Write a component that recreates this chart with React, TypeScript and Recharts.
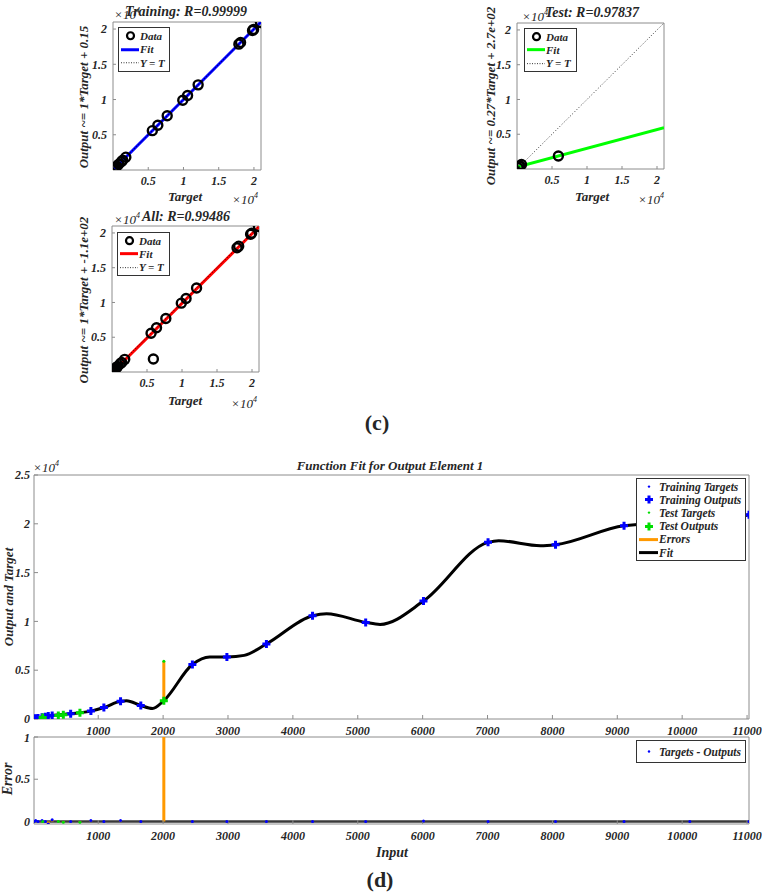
import React from "react";
import {
  ComposedChart,
  XAxis,
  YAxis,
  Line,
  Scatter,
  ReferenceArea,
  ReferenceLine,
} from "recharts";

// training set (input -> target / output / error)
const trainInput = [10, 36, 72, 134, 185, 230, 290, 575, 887, 1087, 1344, 1656, 2451, 2983, 3592, 4303, 5122, 6013, 7008, 8048, 9104, 10118, 11030];
const trainTarget = [50, 80, 110, 170, 230, 300, 350, 540, 810, 1180, 1820, 1380, 5580, 6360, 7690, 10580, 9900, 12080, 18100, 17860, 19800, 19950, 20920];
const trainOutput = [50, 80, 110, 170, 230, 300, 350, 540, 810, 1180, 1820, 1380, 5580, 6360, 7690, 10580, 9900, 12080, 18100, 17860, 19800, 19950, 20920];
const trainError = [0, 0.01, 0, 0.01, 0, -0.03, 0.02, 0, 0.01, 0, 0.01, 0, 0, 0, 0, 0, 0, 0.005, 0, 0, 0, 0, 0];

// test set
const testInput = [144, 385, 462, 718, 2011];
const testTarget = [160, 370, 440, 640, 5910];
const testOutput = [160, 370, 440, 640, 1880];
const testError = [0, 0, -0.01, -0.01, 4030];

// network response
const fitInput = [10, 290, 575, 887, 1087, 1344, 1436, 1656, 1836, 2011, 2451, 2717, 2983, 3250, 3592, 4303, 4519, 5122, 5343, 6013, 7008, 7172, 7816, 8048, 9104, 9500, 10118, 11030];
const fitValue = [50, 350, 540, 810, 1180, 1820, 1880, 1380, 1080, 1880, 5580, 6350, 6360, 6520, 7690, 10580, 10790, 9900, 9690, 12080, 18100, 18270, 17760, 17860, 19800, 19980, 19950, 20920];

// regression fits (slope, intercept)
const trainFit = [1, 0.15];
const testFit = [0.27, 270];
const allFit = [1, -110];

const regTicks = [5000, 10000, 15000, 20000];
const mainXTicks = [1000, 2000, 3000, 4000, 5000, 6000, 7000, 8000, 9000, 10000, 11000];
const mainYTicks = [0, 5000, 10000, 15000, 20000, 25000];
const errYTicks = [0, 0.5, 1];

const REG_DOMAIN = [0, 21000];
const FONT = '"Liberation Serif", "Times New Roman", serif';
const AXIS = "#8c8c8c";
const INK = "#262626";
const BLUE = "#0000ff";
const GREEN = "#00dd00";
const ORANGE = "#ff9900";

const tickStyle = {
  fontFamily: FONT,
  fontSize: 12,
  fontWeight: "bold",
  fontStyle: "italic",
  fill: INK,
};

const noLabel = () => <g />;
const sci = (v: number) => String(v / 10000);

const Ring = (props: any) => {
  const { cx, cy } = props;
  if (cx == null || cy == null) return <g />;
  return <circle cx={cx} cy={cy} r={4.5} fill="none" stroke="#000" strokeWidth={2.4} />;
};

const makePlus = (color: string) => (props: any) => {
  const { cx, cy } = props;
  if (cx == null || cy == null) return <g />;
  return (
    <path
      d={`M${cx - 4},${cy}H${cx + 4}M${cx},${cy - 4}V${cy + 4}`}
      stroke={color}
      strokeWidth={3}
    />
  );
};

const makeDot = (color: string, r: number) => (props: any) => {
  const { cx, cy } = props;
  if (cx == null || cy == null) return <g />;
  return <circle cx={cx} cy={cy} r={r} fill={color} />;
};

function Txt({ x, y, size = 13, rotate = 0, bold = true, italic = true, children }: any) {
  return (
    <div
      style={{
        position: "absolute",
        left: x,
        top: y,
        transform: `translate(-50%, -50%) rotate(${rotate}deg)`,
        fontFamily: FONT,
        fontSize: size,
        fontWeight: bold ? "bold" : "normal",
        fontStyle: italic ? "italic" : "normal",
        color: INK,
        whiteSpace: "nowrap",
        lineHeight: 1,
      }}
    >
      {children}
    </div>
  );
}

const Exp = ({ x, y }: any) => (
  <Txt x={x} y={y} size={13} bold={false}>
    ×10<span style={{ fontSize: 8, position: "relative", top: -6 }}>4</span>
  </Txt>
);

function LegendBox({ left, top, width, rowH, symW, fontSize, items }: any) {
  return (
    <div
      style={{
        position: "absolute",
        left,
        top,
        width,
        border: "1px solid #333",
        background: "#fff",
        padding: "1px 0",
        boxSizing: "border-box",
      }}
    >
      {items.map((it: any) => (
        <div key={it.label} style={{ display: "flex", alignItems: "center", height: rowH }}>
          <svg width={symW} height={rowH} style={{ flex: "none" }}>
            {it.kind === "ring" && (
              <circle cx={symW / 2 + 1} cy={rowH / 2} r={3.5} fill="none" stroke="#000" strokeWidth={2.2} />
            )}
            {it.kind === "line" && (
              <line x1={2} x2={symW - 1} y1={rowH / 2} y2={rowH / 2} stroke={it.color} strokeWidth={3} />
            )}
            {it.kind === "dotted" && (
              <line x1={2} x2={symW - 1} y1={rowH / 2} y2={rowH / 2} stroke="#000" strokeWidth={0.8} strokeDasharray="1 1.5" />
            )}
            {it.kind === "dot" && <circle cx={symW / 2 + 1} cy={rowH / 2} r={1.2} fill={it.color} />}
            {it.kind === "plus" && (
              <path
                d={`M${symW / 2 - 3},${rowH / 2}H${symW / 2 + 5}M${symW / 2 + 1},${rowH / 2 - 4}V${rowH / 2 + 4}`}
                stroke={it.color}
                strokeWidth={3}
              />
            )}
          </svg>
          <span
            style={{
              fontFamily: FONT,
              fontSize,
              fontWeight: "bold",
              fontStyle: "italic",
              color: INK,
              whiteSpace: "nowrap",
            }}
          >
            {it.label}
          </span>
        </div>
      ))}
    </div>
  );
}

function RegressionPlot({ boxLeft, boxTop, w, h, targets, outputs, fitColor, fit }: any) {
  const points = targets.map((t: number, i: number) => ({ x: t, y: outputs[i] }));
  const fitLine = REG_DOMAIN.map((t) => ({ x: t, y: fit[0] * t + fit[1] }));
  const identity = REG_DOMAIN.map((t) => ({ x: t, y: t }));
  return (
    <div style={{ position: "absolute", left: boxLeft - 40, top: boxTop - 10 }}>
      <ComposedChart width={w + 50} height={h + 40} margin={{ top: 10, right: 10, bottom: 10, left: 10 }}>
        <XAxis
          dataKey="x"
          type="number"
          domain={REG_DOMAIN}
          ticks={regTicks}
          allowDataOverflow
          height={20}
          axisLine={false}
          tickSize={-3}
          tickMargin={9}
          tickLine={{ stroke: AXIS }}
          tick={tickStyle}
          tickFormatter={sci}
        />
        <YAxis
          dataKey="y"
          type="number"
          domain={REG_DOMAIN}
          ticks={regTicks}
          allowDataOverflow
          width={30}
          axisLine={false}
          tickSize={-3}
          tickMargin={9}
          tickLine={{ stroke: AXIS }}
          tick={tickStyle}
          tickFormatter={sci}
        />
        <XAxis xAxisId="top" orientation="top" type="number" domain={REG_DOMAIN} ticks={regTicks} allowDataOverflow height={0} axisLine={false} tickSize={-3} tickLine={{ stroke: AXIS }} tick={noLabel} />
        <YAxis yAxisId="right" orientation="right" type="number" domain={REG_DOMAIN} ticks={regTicks} allowDataOverflow width={0} axisLine={false} tickSize={-3} tickLine={{ stroke: AXIS }} tick={noLabel} />
        <ReferenceArea x1={REG_DOMAIN[0]} x2={REG_DOMAIN[1]} y1={REG_DOMAIN[0]} y2={REG_DOMAIN[1]} fill="none" stroke={AXIS} strokeWidth={1} />
        <Line data={fitLine} dataKey="y" stroke={fitColor} strokeWidth={3} dot={false} isAnimationActive={false} />
        <Line data={identity} dataKey="y" stroke="#000" strokeWidth={0.8} strokeDasharray="1 2" dot={false} isAnimationActive={false} />
        <Scatter data={points} shape={Ring} isAnimationActive={false} />
      </ComposedChart>
    </div>
  );
}

const regLegend = (color: string) => [
  { label: "Data", kind: "ring" },
  { label: "Fit", kind: "line", color },
  { label: "Y = T", kind: "dotted" },
];

export default function App() {
  const mainDomain = [Math.min(...trainInput), Math.max(...trainInput)];
  const fitData = fitInput.map((x, i) => ({ x, y: fitValue[i] }));
  const trTargets = trainInput.map((x, i) => ({ x, y: trainTarget[i] }));
  const trOutputs = trainInput.map((x, i) => ({ x, y: trainOutput[i] }));
  const teTargets = testInput.map((x, i) => ({ x, y: testTarget[i] }));
  const teOutputs = testInput.map((x, i) => ({ x, y: testOutput[i] }));
  const trErr = trainInput.map((x, i) => ({ x, y: trainError[i] }));
  const teErr = testInput.map((x, i) => ({ x, y: testError[i] }));
  const errSegs = [
    ...trainInput.map((x, i) => [{ x, y: trainOutput[i] }, { x, y: trainTarget[i] }]),
    ...testInput.map((x, i) => [{ x, y: testOutput[i] }, { x, y: testTarget[i] }]),
  ];
  const errBars = [
    ...trainInput.map((x, i) => [{ x, y: 0 }, { x, y: trainError[i] }]),
    ...testInput.map((x, i) => [{ x, y: 0 }, { x, y: testError[i] }]),
  ];

  const bottomAxes = (domainY: number[], ticksY: number[], yFmt?: any) => [
    <XAxis
      key="bx"
      dataKey="x"
      type="number"
      domain={mainDomain}
      ticks={mainXTicks}
      allowDataOverflow
      height={20}
      axisLine={false}
      tickSize={-4}
      tickMargin={11}
      tickLine={{ stroke: AXIS }}
      tick={tickStyle}
    />,
    <YAxis
      key="ly"
      dataKey="y"
      type="number"
      domain={domainY}
      ticks={ticksY}
      allowDataOverflow
      width={26}
      axisLine={false}
      tickSize={-4}
      tickMargin={8}
      tickLine={{ stroke: AXIS }}
      tick={tickStyle}
      tickFormatter={yFmt}
    />,
    <XAxis key="tx" xAxisId="top" orientation="top" type="number" domain={mainDomain} ticks={mainXTicks} allowDataOverflow height={0} axisLine={false} tickSize={-4} tickLine={{ stroke: AXIS }} tick={noLabel} />,
    <YAxis key="ry" yAxisId="right" orientation="right" type="number" domain={domainY} ticks={ticksY} allowDataOverflow width={0} axisLine={false} tickSize={-4} tickLine={{ stroke: AXIS }} tick={noLabel} />,
    <ReferenceArea key="box" x1={mainDomain[0]} x2={mainDomain[1]} y1={domainY[0]} y2={domainY[1]} fill="none" stroke={AXIS} strokeWidth={1} />,
  ];

  return (
    <div
      style={{
        position: "absolute",
        left: 0,
        top: 0,
        width: 762,
        height: 894,
        background: "#fff",
        overflow: "hidden",
      }}
    >
      {/* (c) regression panels */}
      <RegressionPlot boxLeft={113} boxTop={22} w={148} h={148} targets={trainTarget} outputs={trainOutput} fitColor={BLUE} fit={trainFit} />
      <RegressionPlot boxLeft={517} boxTop={23} w={147} h={146} targets={testTarget} outputs={testOutput} fitColor="#00ff00" fit={testFit} />
      <RegressionPlot
        boxLeft={112}
        boxTop={226}
        w={147}
        h={146}
        targets={[...trainTarget, ...testTarget]}
        outputs={[...trainOutput, ...testOutput]}
        fitColor="#ff0000"
        fit={allFit}
      />

      <Txt x={186} y={12} size={14}>Training: R=0.99999</Txt>
      <Exp x={127} y={14} />
      <Txt x={83} y={97} rotate={-90}>Output ~= 1*Target + 0.15</Txt>
      <Txt x={185} y={196}>Target</Txt>
      <Exp x={245} y={199} />
      <LegendBox left={118} top={27} width={52} rowH={13.5} symW={21} fontSize={11} items={regLegend(BLUE)} />

      <Txt x={592} y={13} size={14}>Test: R=0.97837</Txt>
      <Exp x={535} y={16} />
      <Txt x={490} y={96} rotate={-90}>Output ~= 0.27*Target + 2.7e+02</Txt>
      <Txt x={592} y={196}>Target</Txt>
      <Exp x={651} y={199} />
      <LegendBox left={524} top={28} width={53} rowH={13.3} symW={21} fontSize={11} items={regLegend("#00ff00")} />

      <Txt x={186} y={217} size={14}>All: R=0.99486</Txt>
      <Exp x={127} y={219} />
      <Txt x={83} y={300} rotate={-90}>Output ~= 1*Target + -1.1e+02</Txt>
      <Txt x={185} y={400}>Target</Txt>
      <Exp x={244} y={403} />
      <LegendBox left={117} top={232} width={53} rowH={13.3} symW={21} fontSize={11} items={regLegend("#ff0000")} />

      <Txt x={377} y={423} size={22} italic={false}>(c)</Txt>

      {/* (d) function fit */}
      <div style={{ position: "absolute", left: 0, top: 460 }}>
        <ComposedChart width={762} height={280} margin={{ top: 15, right: 13, bottom: 1, left: 8 }}>
          {bottomAxes([0, 25000], mainYTicks, sci)}
          <Line data={fitData} dataKey="y" type="monotoneX" stroke="#000" strokeWidth={3} dot={false} isAnimationActive={false} />
          {errSegs.map((seg, i) => (
            <Line key={"e" + i} data={seg} dataKey="y" stroke={ORANGE} strokeWidth={3} dot={false} isAnimationActive={false} />
          ))}
          <Scatter data={trTargets} shape={makeDot(BLUE, 1.2)} isAnimationActive={false} />
          <Scatter data={trOutputs} shape={makePlus(BLUE)} isAnimationActive={false} />
          <Scatter data={teTargets} shape={makeDot(GREEN, 1.5)} isAnimationActive={false} />
          <Scatter data={teOutputs} shape={makePlus(GREEN)} isAnimationActive={false} />
        </ComposedChart>
      </div>
      <Txt x={390} y={465} size={13}>Function Fit for Output Element 1</Txt>
      <Exp x={46} y={467} />
      <Txt x={8} y={597} rotate={-90}>Output and Target</Txt>
      <LegendBox
        left={636}
        top={478}
        width={110}
        rowH={13.2}
        symW={22}
        fontSize={11.5}
        items={[
          { label: "Training Targets", kind: "dot", color: BLUE },
          { label: "Training Outputs", kind: "plus", color: BLUE },
          { label: "Test Targets", kind: "dot", color: GREEN },
          { label: "Test Outputs", kind: "plus", color: GREEN },
          { label: "Errors", kind: "line", color: ORANGE },
          { label: "Fit", kind: "line", color: "#000" },
        ]}
      />

      <div style={{ position: "absolute", left: 0, top: 730 }}>
        <ComposedChart width={762} height={120} margin={{ top: 7, right: 13, bottom: 6, left: 8 }}>
          {bottomAxes([-0.03, 1], errYTicks)}
          <ReferenceLine y={0} stroke="#3a3a3a" strokeWidth={2.5} />
          {errBars.map((seg, i) => (
            <Line key={"b" + i} data={seg} dataKey="y" stroke={ORANGE} strokeWidth={3} dot={false} isAnimationActive={false} />
          ))}
          <Scatter data={trErr} shape={makeDot(BLUE, 1.5)} isAnimationActive={false} />
          <Scatter data={teErr} shape={makeDot(GREEN, 1.5)} isAnimationActive={false} />
        </ComposedChart>
      </div>
      <Txt x={8} y={779} rotate={-90} size={14}>Error</Txt>
      <Txt x={392} y={853} size={14}>Input</Txt>
      <LegendBox
        left={636}
        top={740}
        width={110}
        rowH={19}
        symW={22}
        fontSize={11.5}
        items={[{ label: "Targets - Outputs", kind: "dot", color: BLUE }]}
      />
      <Txt x={380} y={880} size={22} italic={false}>(d)</Txt>
    </div>
  );
}
